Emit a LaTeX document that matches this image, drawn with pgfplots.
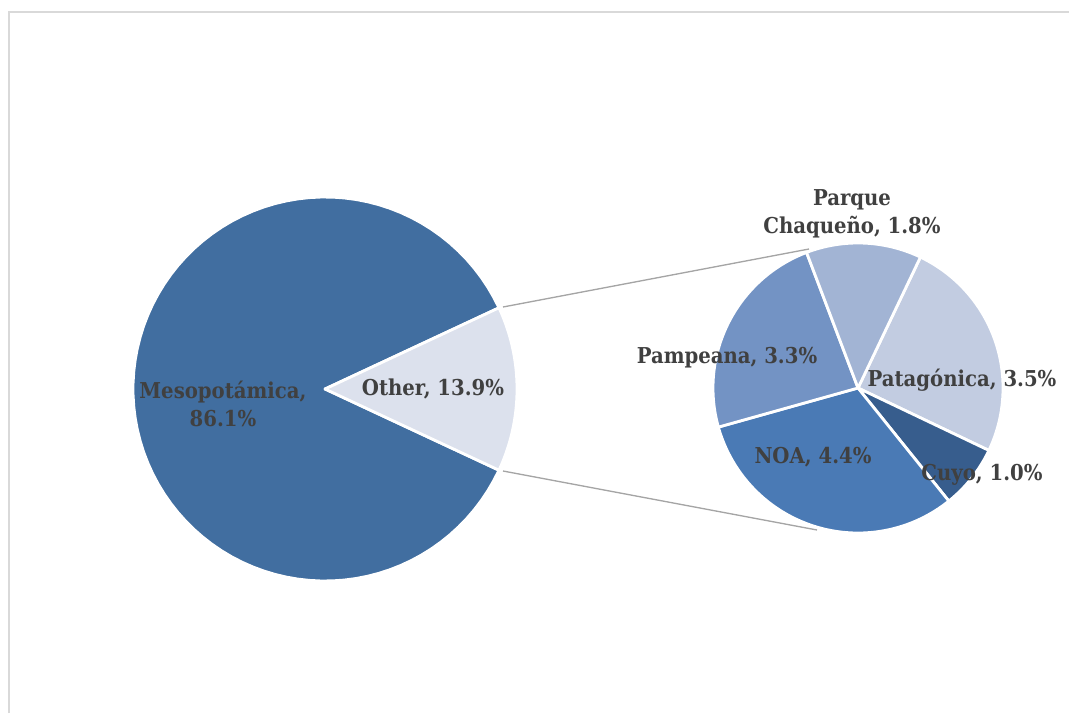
\documentclass[border=0pt]{standalone}
\usepackage{pgfplots}
\pgfplotsset{compat=1.18}
\usepackage{fontspec}
\setmainfont{DejaVu Serif Condensed}
\definecolor{meso}{RGB}{65,110,160}
\definecolor{other}{RGB}{220,225,237}
\definecolor{patag}{RGB}{194,204,225}
\definecolor{parque}{RGB}{162,180,212}
\definecolor{pampe}{RGB}{115,147,196}
\definecolor{noa}{RGB}{74,122,181}
\definecolor{cuyo}{RGB}{55,93,141}
\definecolor{lab}{RGB}{64,64,64}
\definecolor{conn}{RGB}{165,165,165}
\definecolor{frame}{RGB}{217,217,217}
\tikzset{lbl/.style={font=\fontsize{16.4}{21}\selectfont\bfseries, text=lab, align=center, inner sep=0pt}}
\newcommand{\slice}[6]{%
  \addplot[fill=#1, draw=white, line width=2.1pt, line join=round, domain=#5:#6, samples=90, variable=\t]
    ({#2+#4*cos(\t)},{#3-#4*sin(\t)}) -- (#2,#3) -- cycle;}
\begin{document}
\begin{tikzpicture}
% primary pie values
\def\vMeso{86.1}\def\vOther{13.9}
% secondary pie values
\def\vPatag{3.5}\def\vCuyo{1.0}\def\vNOA{4.4}\def\vPampe{3.3}\def\vParque{1.8}
\pgfmathsetmacro\half{\vOther/(\vMeso+\vOther)*180}
\pgfmathsetmacro\tot{\vPatag+\vCuyo+\vNOA+\vPampe+\vParque}
\pgfmathsetmacro\aA{64.5}
\pgfmathsetmacro\aB{\aA-\vPatag/\tot*360}
\pgfmathsetmacro\aC{\aB-\vCuyo/\tot*360}
\pgfmathsetmacro\aD{\aC-\vNOA/\tot*360}
\pgfmathsetmacro\aE{\aD-\vPampe/\tot*360}
\pgfmathsetmacro\aF{\aE-\vParque/\tot*360}
\begin{axis}[at={(0,0)}, anchor=south west, scale only axis,
  width=801.75pt, height=534.75pt,
  xmin=0, xmax=1069, ymin=0, ymax=713, y dir=reverse,
  hide axis, clip=false]
% frame
\addplot[frame, line width=1.5pt] coordinates {(8.5,713) (8.5,12.5) (1069,12.5)};
% primary pie
\slice{meso}{325}{389}{192}{\half}{360-\half}
\slice{other}{325}{389}{192}{-\half}{\half}
% secondary pie
\slice{patag}{858}{388}{145}{\aB}{\aA}
\slice{cuyo}{858}{388}{145}{\aC}{\aB}
\slice{noa}{858}{388}{145}{\aD}{\aC}
\slice{pampe}{858}{388}{145}{\aE}{\aD}
\slice{parque}{858}{388}{145}{\aF}{\aE}
% connectors
\addplot[conn, line width=1pt] coordinates {(503,307) (809,249)};
\addplot[conn, line width=1pt] coordinates {(503,471) (817,530)};
% labels
\node[lbl] at (axis cs:223,404) {Mesopotámica,\\86.1\%};
\node[lbl] at (axis cs:433,389) {Other, 13.9\%};
\node[lbl] at (axis cs:852,214) {Parque\\Chaqueño, 1.8\%};
\node[lbl] at (axis cs:727,358) {Pampeana, 3.3\%};
\node[lbl] at (axis cs:962,380) {Patagónica, 3.5\%};
\node[lbl] at (axis cs:813,457) {NOA, 4.4\%};
\node[lbl] at (axis cs:982,475) {Cuyo, 1.0\%};
\end{axis}
\pgfresetboundingbox
\path (0,0) rectangle (801.75pt,534.75pt);
\end{tikzpicture}
\end{document}
